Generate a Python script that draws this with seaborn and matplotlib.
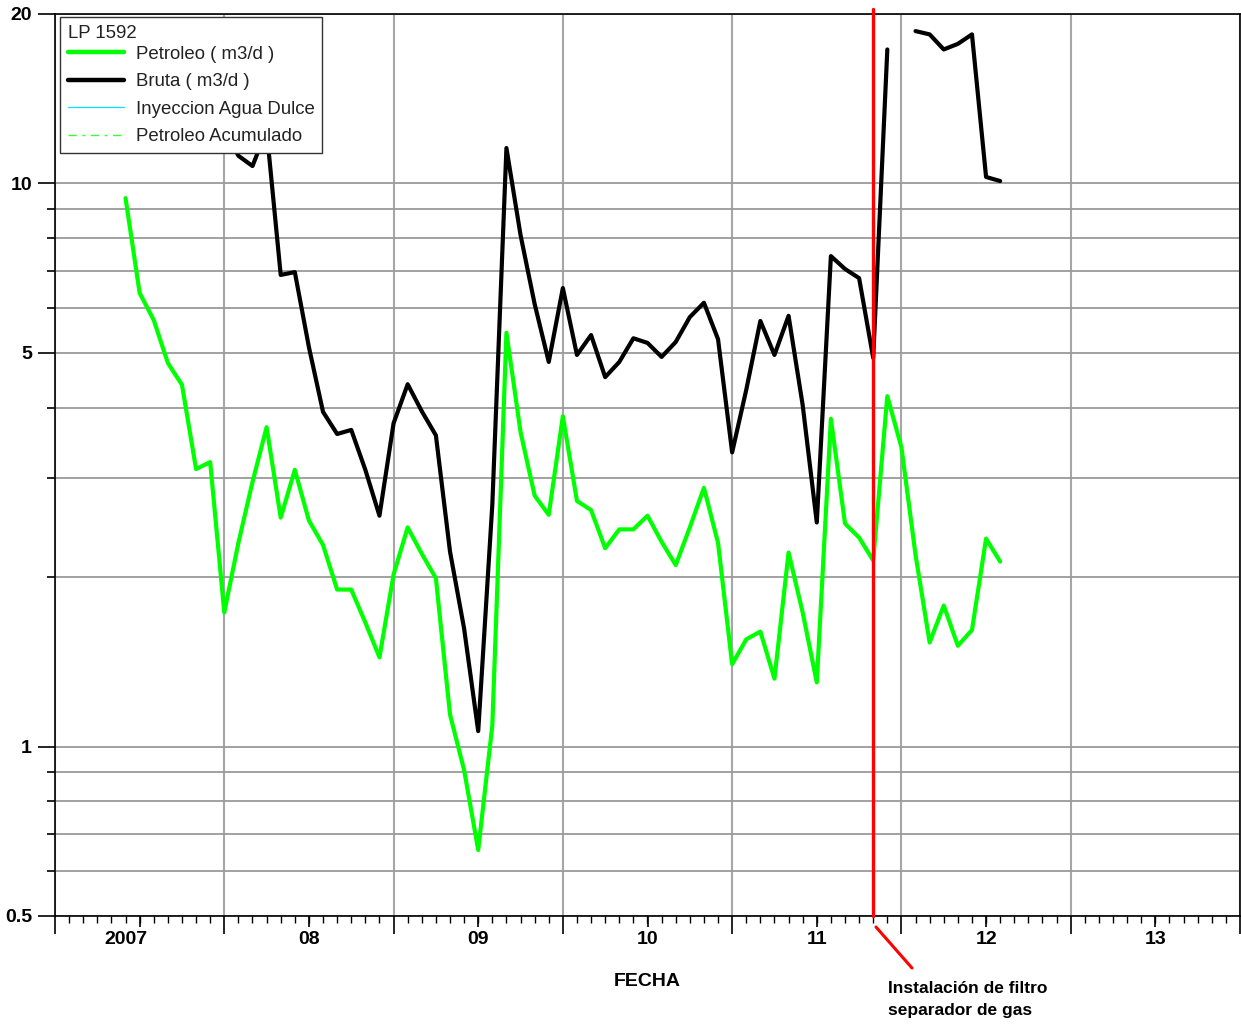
import numpy as np
import pandas as pd
import matplotlib
matplotlib.use("Agg")
import matplotlib.pyplot as plt
import matplotlib.transforms as mtransforms
import seaborn as sns
from matplotlib.lines import Line2D
from matplotlib.ticker import FixedLocator, FixedFormatter, NullFormatter

# ---------------- data ----------------
months = pd.date_range("2007-06-01", "2012-08-01", freq="MS")

petroleo = [9.42, 6.39, 5.72, 4.80, 4.39, 3.11, 3.20, 1.73, 2.30, 2.95,
            3.69, 2.55, 3.10, 2.52, 2.28, 1.90, 1.90, 1.66, 1.44, 2.02,
            2.45, 2.20, 1.99, 1.14, 0.908, 0.655, 1.09, 5.43, 3.62, 2.79,
            2.58, 3.86, 2.73, 2.63, 2.25, 2.43, 2.43, 2.57, 2.31, 2.10,
            2.45, 2.88, 2.30, 1.40, 1.55, 1.60, 1.32, 2.21, 1.73, 1.30,
            3.82, 2.49, 2.35, 2.14, 4.19, 3.40, 2.19, 1.53, 1.78, 1.51,
            1.61, 2.34, 2.13]

bruta = [14.5, 15.5, 14.0, 15.0, 13.0, 14.0, 13.5, 12.5, 11.2, 10.74,
         12.45, 6.88, 6.96, 5.12, 3.93, 3.59, 3.65, 3.10, 2.57, 3.75,
         4.40, 3.94, 3.57, 2.22, 1.62, 1.065, 2.69, 11.56, 8.10, 6.11,
         4.82, 6.52, 4.96, 5.38, 4.53, 4.82, 5.31, 5.21, 4.92, 5.23,
         5.79, 6.14, 5.29, 3.33, 4.30, 5.70, 4.96, 5.82, 4.04, 2.50,
         7.43, 7.05, 6.79, 4.90, 17.3, np.nan, 18.65, 18.4, 17.3, 17.7,
         18.4, 10.27, 10.10]

legend_title = "LP 1592"
legend_labels = ["Petroleo ( m3/d )", "Bruta ( m3/d )",
                 "Inyeccion Agua Dulce", "Petroleo Acumulado"]
year_labels = ["2007", "08", "09", "10", "11", "12", "13"]
y_major = [0.5, 1, 5, 10, 20]
y_major_labels = ["0.5", "1", "5", "10", "20"]
y_minor = [0.6, 0.7, 0.8, 0.9, 2, 3, 4, 6, 7, 8, 9]
event_date = pd.Timestamp("2011-11-01")
event_text = "Instalación de filtro\nseparador de gas"
x_title = "FECHA"


def decimal_year(d):
    return d.year + (d.month - 1) / 12.0


df = pd.DataFrame({"fecha": [decimal_year(d) for d in months],
                   "Petroleo": petroleo, "Bruta": bruta})
df["seg_b"] = df["Bruta"].isna().cumsum()

# ---------------- style ----------------
sns.set_theme(style="white")
plt.rcParams["font.family"] = ["Liberation Sans", "DejaVu Sans"]

W, H = 1241, 1024
fig = plt.figure(figsize=(W / 100, H / 100), dpi=100)
ax = fig.add_axes([55 / W, (H - 916) / H, 1185 / W, 902 / H])
ax.set_yscale("log")

sns.lineplot(data=df, x="fecha", y="Petroleo", color="#00ff00", lw=3.0,
             ax=ax, legend=False, estimator=None, sort=False, zorder=2)
sns.lineplot(data=df.dropna(subset=["Bruta"]), x="fecha", y="Bruta",
             units="seg_b", estimator=None, color="black", lw=3.0,
             ax=ax, legend=False, zorder=2)

ax.set_xlim(2007, 2014)
ax.set_ylim(0.5, 20)

# x axis: year boundaries (grid), monthly minor ticks
ax.xaxis.set_major_locator(FixedLocator(list(range(2007, 2015))))
ax.xaxis.set_major_formatter(NullFormatter())
ax.xaxis.set_minor_locator(FixedLocator(np.arange(2007, 2014.001, 1 / 12)))
ax.xaxis.set_minor_formatter(NullFormatter())
ax.tick_params(axis="x", which="major", length=13, width=1.2,
               direction="out", color="black", bottom=True)
ax.tick_params(axis="x", which="minor", length=5, width=1.0,
               direction="out", color="black", bottom=True)
ax.grid(True, axis="x", which="major", color="#a6a6a6", lw=1.5)
ax.set_xlabel("")

sec = ax.secondary_xaxis("bottom")
sec.set_xticks([y + 0.5 for y in range(2007, 2014)], labels=year_labels)
sec.tick_params(length=8, width=1.2, color="black", pad=3)
for s in sec.spines.values():
    s.set_visible(False)
sec_labels = sec.get_xticklabels()
plt.setp(sec_labels, fontsize=14, fontweight="bold", color="black")
first = sec_labels[0]
first.set_transform(first.get_transform() +
                    mtransforms.ScaledTranslation(-0.14, 0, fig.dpi_scale_trans))

# y axis
ax.yaxis.set_major_locator(FixedLocator(y_major))
ax.yaxis.set_major_formatter(FixedFormatter(y_major_labels))
ax.yaxis.set_minor_locator(FixedLocator(y_minor))
ax.yaxis.set_minor_formatter(NullFormatter())
ax.tick_params(axis="y", which="major", length=12, width=1.2,
               direction="out", color="black", left=True, pad=4.5)
ax.tick_params(axis="y", which="minor", length=6, width=1.2,
               direction="out", color="black", left=True)
plt.setp(ax.get_yticklabels(), fontsize=14, fontweight="bold", color="black")
ax.grid(True, axis="y", which="both", color="#9a9a9a", lw=1.3)
ax.set_ylabel("")

for s in ax.spines.values():
    s.set_visible(True)
    s.set_color("black")
    s.set_linewidth(1.2)

# x title
ax.set_xlabel(x_title, fontsize=14, fontweight="bold", color="black")
ax.xaxis.set_label_coords(0.5, -(973 - 916) / 902)

# event line
ax.axvline(decimal_year(event_date), ymin=0, ymax=1.005, color="#ff0000",
           lw=2.4, clip_on=False, zorder=3)
fig.add_artist(Line2D([876 / W, 912 / W], [1 - 927 / H, 1 - 968 / H],
                      transform=fig.transFigure, color="#ff0000", lw=2.2))
fig.text(888 / W, 1 - 981 / H, event_text, ha="left", va="top",
         fontsize=12.5, fontweight="bold", color="black", linespacing=1.55)

# legend
handles = [Line2D([], [], color="#00ff00", lw=3.2),
           Line2D([], [], color="black", lw=3.2),
           Line2D([], [], color="#00e5ff", lw=0.9),
           Line2D([], [], color="#33ff33", lw=1.0, ls=(0, (6, 4, 2, 4)))]
leg = ax.legend(handles, legend_labels, title=legend_title, loc="upper left",
                bbox_to_anchor=(5 / 1185, 1 - 3 / 902), frameon=True,
                fancybox=False, edgecolor="#333333", facecolor="white",
                framealpha=1, fontsize=13.4, title_fontsize=13.4,
                handlelength=3.0, handletextpad=0.65, labelspacing=0.56,
                borderpad=0.42, borderaxespad=0, alignment="left")
leg._legend_box.sep = 3.0
leg.get_frame().set_linewidth(1.0)
leg.set_zorder(5)
for t in leg.get_texts():
    t.set_color("#222222")
leg.get_title().set_color("#222222")

fig.savefig("out.png", dpi=100)
